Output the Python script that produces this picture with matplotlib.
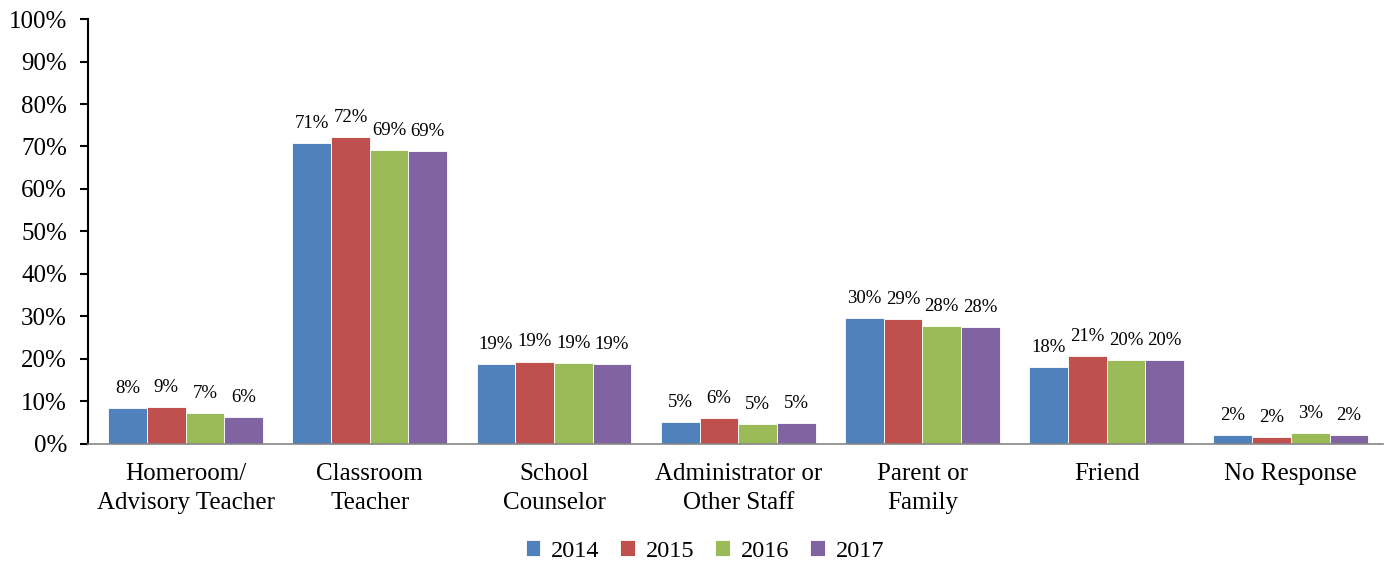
import numpy as np
import matplotlib
matplotlib.use("Agg")
import matplotlib.pyplot as plt

plt.rcParams['font.family'] = ['Liberation Serif', 'DejaVu Serif']

# data (percent)
categories = ["Homeroom/\nAdvisory Teacher", "Classroom\nTeacher", "School\nCounselor",
              "Administrator or\nOther Staff", "Parent or\nFamily", "Friend", "No Response"]
years = ["2014", "2015", "2016", "2017"]
v2014 = [8.4, 70.8, 18.8, 5.2, 29.6, 18.1, 2.1]
v2015 = [8.6, 72.2, 19.4, 6.1, 29.4, 20.7, 1.6]
v2016 = [7.2, 69.2, 19.1, 4.7, 27.7, 19.7, 2.6]
v2017 = [6.4, 68.9, 18.8, 5.0, 27.6, 19.8, 2.1]
labels2014 = ["8%", "71%", "19%", "5%", "30%", "18%", "2%"]
labels2015 = ["9%", "72%", "19%", "6%", "29%", "21%", "2%"]
labels2016 = ["7%", "69%", "19%", "5%", "28%", "20%", "3%"]
labels2017 = ["6%", "69%", "19%", "5%", "28%", "20%", "2%"]

series = [v2014, v2015, v2016, v2017]
series_labels = [labels2014, labels2015, labels2016, labels2017]
colors = ["#4F81BD", "#C0504D", "#9BBB59", "#8064A2"]

fig = plt.figure(figsize=(13.85, 5.64), dpi=100)
ax = fig.add_axes([0.0635, 0.2128, 0.935, 0.7535])

x = np.arange(len(categories))
w = 0.21
for i, (vals, labs) in enumerate(zip(series, series_labels)):
    pos = x + (i - 1.5) * w
    bars = ax.bar(pos, vals, width=w, color=colors[i], edgecolor="white",
                  linewidth=0.6, label=years[i])
    for b, lab in zip(bars, labs):
        ax.annotate(lab, (b.get_x() + b.get_width() / 2, b.get_height()),
                    xytext=(0, 8), textcoords="offset points",
                    ha="center", va="bottom", fontsize=13.5)

ax.set_xlim(-0.53, len(categories) - 0.5)
ax.set_ylim(0, 100)
ax.set_yticks(np.arange(0, 101, 10))
ax.set_yticklabels([f"{t}%" for t in range(0, 101, 10)], fontsize=18)
ax.set_xticks(x)
ax.set_xticklabels(categories, fontsize=18, linespacing=1.38)
ax.tick_params(axis="x", length=0, pad=14)
ax.tick_params(axis="y", length=6, width=1.5, color="black", pad=9)

for s in ["top", "right"]:
    ax.spines[s].set_visible(False)
ax.spines["left"].set_color("black")
ax.spines["left"].set_linewidth(1.5)
ax.spines["bottom"].set_color("#868686")
ax.spines["bottom"].set_linewidth(1.2)

fig.legend(loc="center", bbox_to_anchor=(0.509, 0.023), ncol=4, frameon=False,
           fontsize=17.5, handlelength=0.6, handleheight=0.6, handletextpad=0.45,
           columnspacing=0.85)

fig.savefig("out.png", dpi=100)
